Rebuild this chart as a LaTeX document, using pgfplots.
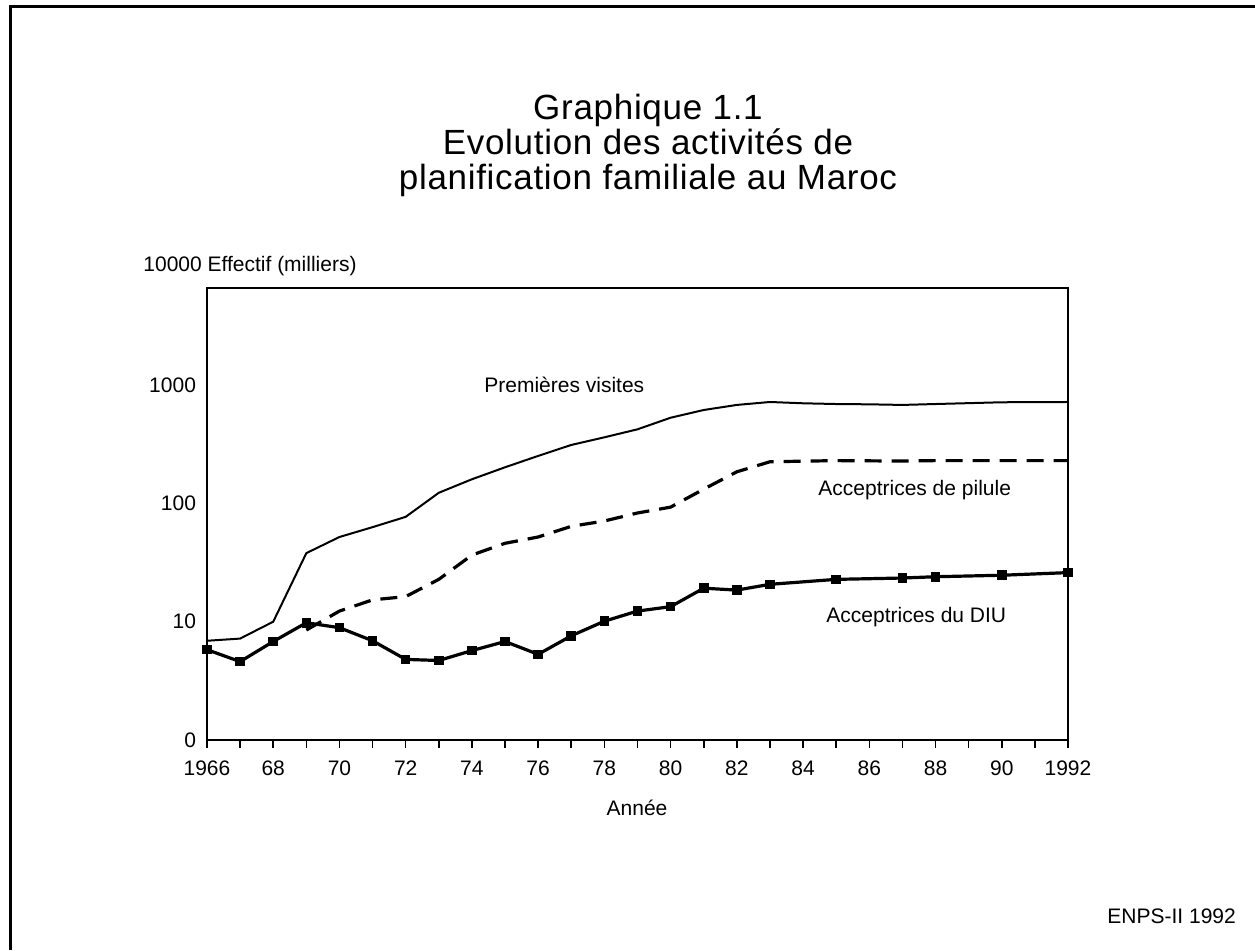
\documentclass[border=0pt]{standalone}
\usepackage{pgfplots}
\pgfplotsset{compat=1.18}
\usepackage{fontspec}
\setmainfont{Liberation Sans}
\newfontfamily\titlefont[LetterSpace=2.0]{Liberation Sans}
\begin{document}
\begin{tikzpicture}[x=0.5pt,y=0.5pt]
\path[use as bounding box] (0,0) rectangle (1255,950);
\draw[line width=1.5pt] (10,0) -- (10,943) -- (1255,943);
\begin{axis}[
  at={(103.5pt,105pt)}, anchor=south west,
  scale only axis, width=430.5pt, height=226pt,
  xmin=1966, xmax=1992,
  ymode=log, ymin=1, ymax=6620,
  axis line style={line width=1pt},
  xtick={1966,1968,...,1992},
  xticklabels={1966,68,70,72,74,76,78,80,82,84,86,88,90,1992},
  minor xtick={1967,1969,...,1991},
  xtick pos=bottom, tick align=outside,
  major tick length=4pt, minor tick length=4pt,
  tick style={line width=0.8pt, black},
  ytick={1,10,100,1000},
  yticklabels={0,10,100,1000},
  ytick style={draw=none},
  log ticks with fixed point,
  /pgf/number format/assume math mode=true,
  tick label style={font=\fontsize{10.5}{12}\selectfont},
  xticklabel style={yshift=-3pt},
  yticklabel style={xshift=2pt},
  clip=false,
]
\addplot[black, line width=1pt] coordinates {
(1966,6.9) (1967,7.2) (1968,10) (1969,38) (1970,52) (1971,63) (1972,77)
(1973,123) (1974,160) (1975,202) (1976,252) (1977,312) (1978,362) (1979,423)
(1980,530) (1981,616) (1982,680) (1983,720) (1984,702) (1985,692) (1986,688)
(1987,680) (1988,692) (1990,716) (1992,720)
};
\addplot[black, line width=1.6pt, dash pattern=on 8.5pt off 5pt] coordinates {
(1969,8.5) (1970,12.3) (1971,15.3) (1972,16.3) (1973,22.8) (1974,36.6)
(1975,46) (1976,52) (1977,64) (1978,71) (1979,83) (1980,93) (1981,132)
(1982,185) (1983,225) (1985,230) (1987,228) (1988,230) (1990,230) (1992,230)
};
\addplot[black, line width=1.6pt, mark=square*, mark size=1.6pt] coordinates {
(1966,5.8) (1967,4.6) (1968,6.8) (1969,9.8) (1970,8.9) (1971,6.9) (1972,4.8)
(1973,4.7) (1974,5.7) (1975,6.8) (1976,5.3) (1977,7.6) (1978,10.1) (1979,12.3)
(1980,13.4) (1981,19.2) (1982,18.5) (1983,20.7) (1985,22.8) (1987,23.4)
(1988,24.0) (1990,24.7) (1992,26.0)
};
\end{axis}
\node[align=center, font=\titlefont\fontsize{17.5}{17.5}\selectfont] at (648,805) {Graphique 1.1\\Evolution des activités de\\planification familiale au Maroc};
\node[anchor=west, inner sep=0pt, font=\fontsize{10.5}{12}\selectfont] at (143,684) {10000 Effectif (milliers)};
\node[font=\fontsize{10.5}{12}\selectfont] at (637,142) {Année};
\node[anchor=west, inner sep=0pt, font=\fontsize{10.5}{12}\selectfont] at (484,565) {Premières visites};
\node[anchor=west, inner sep=0pt, font=\fontsize{10.5}{12}\selectfont] at (818,460) {Acceptrices de pilule};
\node[anchor=west, inner sep=0pt, font=\fontsize{10.5}{12}\selectfont] at (826,333) {Acceptrices du DIU};
\node[anchor=west, inner sep=0pt, font=\fontsize{10.5}{12}\selectfont] at (1107,34) {ENPS-II 1992};
\end{tikzpicture}
\end{document}
